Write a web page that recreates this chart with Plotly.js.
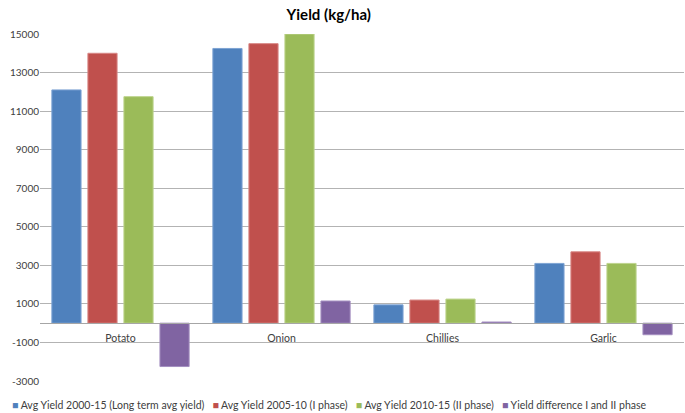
<!DOCTYPE html>
<html>
<head>
<meta charset="utf-8">
<script src="https://cdn.plot.ly/plotly-3.0.1.min.js"></script>
<style>html,body{margin:0;padding:0;background:#fff}#chart{width:685px;height:413px}</style>
</head>
<body>
<div id="chart"></div>
<script>
const categories = ["Potato", "Onion", "Chillies", "Garlic"];
const seriesNames = [
  "Avg Yield 2000-15 (Long term avg yield)",
  "Avg Yield 2005-10 (I phase)",
  "Avg Yield 2010-15 (II phase)",
  "Yield difference I and II phase"
];
const avg2000_15 = [12100, 14250, 950, 3100];
const avg2005_10 = [14000, 14500, 1200, 3700];
const avg2010_15 = [11750, 15000, 1250, 3100];
const yieldDiff = [-2250, 1150, 60, -600];
const tickValues = [-3000, -1000, 1000, 3000, 5000, 7000, 9000, 11000, 13000, 15000];
const tickLabels = ["-3000", "-1000", "1000", "3000", "5000", "7000", "9000", "11000", "13000", "15000"];

const colors = ["#4F81BD", "#C0504D", "#9BBB59", "#8064A2"];
const edges = ["#7ea3d3", "#d88785", "#bdd48d", "#a48fc0"];
const values = [avg2000_15, avg2005_10, avg2010_15, yieldDiff];

const data = values.map((v, i) => ({
  type: "bar",
  name: seriesNames[i],
  x: categories,
  y: v,
  marker: {color: colors[i], line: {color: edges[i], width: 1}},
  hoverinfo: "x+y+name"
}));

const legendText = seriesNames.map((n, i) =>
  '<span style="color:' + colors[i] + '">■</span> ' + n).join('   ');

const layout = {
  width: 685, height: 413,
  margin: {l: 40, r: 1, t: 34, b: 32},
  paper_bgcolor: "#fff", plot_bgcolor: "#fff",
  font: {family: "Lato, 'Open Sans', sans-serif", size: 10, color: "#404040"},
  title: {text: "<b>Yield (kg/ha)</b>", font: {family: "Lato, sans-serif", size: 15, color: "#000"}, x: 0.48, xanchor: "center", y: 0.965, yanchor: "middle"},
  barmode: "group",
  bargap: 0.105,
  bargroupgap: 0.19,
  xaxis: {
    type: "category",
    anchor: "free",
    position: 1/6,
    showline: true, linecolor: "#a6a6a6", linewidth: 1,
    ticks: "", showgrid: false, zeroline: false,
    tickfont: {size: 10.5, color: "#404040"},
    ticklabelstandoff: 5
  },
  yaxis: {
    range: [-3000, 15000],
    tickmode: "array", tickvals: tickValues, ticktext: tickLabels,
    showgrid: true, gridcolor: "#b3b3b3", gridwidth: 1,
    zeroline: false, showline: false, ticks: "",
    tickfont: {size: 10, color: "#404040"}
  },
  showlegend: false,
  annotations: [{
    xref: "paper", yref: "paper", x: 0.45, y: -0.069, xanchor: "center", yanchor: "middle",
    showarrow: false, text: legendText, font: {size: 10.5, color: "#404040"}
  }]
};

Plotly.newPlot("chart", data, layout, {displayModeBar: false, staticPlot: true});
</script>
</body>
</html>
